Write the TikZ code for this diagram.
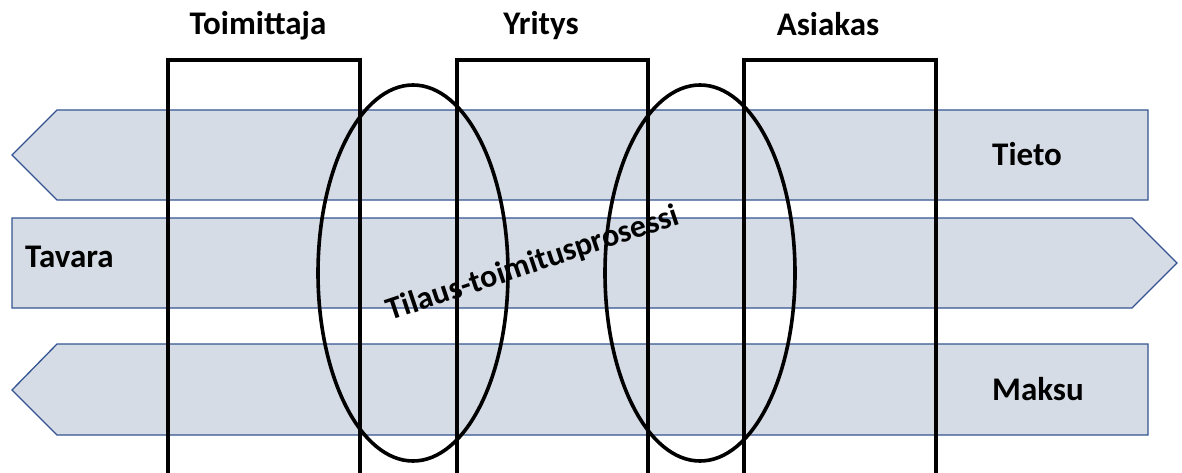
\documentclass[tikz,border=0pt]{standalone}
\usepackage{fontspec}
\setmainfont{Carlito}
\begin{document}
\begin{tikzpicture}[x=1pt,y=-1pt,
  flow/.style={fill=flowfill, draw=flowline, line width=1.3pt, line join=miter},
  party/.style={draw=black, line width=3.6pt},
  phase/.style={draw=black, line width=3.6pt},
  lbl/.style={font=\bfseries\fontsize{33}{36}\selectfont, inner sep=0pt}]
\definecolor{flowfill}{RGB}{214,220,229}
\definecolor{flowline}{RGB}{52,84,145}
\useasboundingbox (0,0) rectangle (1182,473);

% flow arrows
\draw[flow] (12,155) -- (57,110) -- (1148,110) -- (1148,200) -- (57,200) -- cycle;
\draw[flow] (12,218) -- (1132,218) -- (1177,263) -- (1132,308) -- (12,308) -- cycle;
\draw[flow] (12,390) -- (57,344) -- (1148,344) -- (1148,435) -- (57,435) -- cycle;

% process label
\node[lbl, rotate=18.5, font=\bfseries\fontsize{32}{35}\selectfont] (proc) at (533,264) {Tilaus-toimitusprosessi};

% parties
\draw[party] (168,480) -- (168,60) -- (360,60) -- (360,480);
\draw[party] (457,480) -- (457,60) -- (648,60) -- (648,480);
\draw[party] (744,480) -- (744,60) -- (936,60) -- (936,480);

% process phases
\draw[phase] (413,273) ellipse [x radius=95, y radius=188];
\draw[phase] (700,273) ellipse [x radius=95, y radius=188];

% labels
\node[lbl, anchor=base] (toim) at (258,35) {Toimittaja};
\node[lbl, anchor=base] (yri) at (541,35) {Yritys};
\node[lbl, anchor=base] (asi) at (828,36) {Asiakas};
\node[lbl, anchor=base west] (tieto) at (992,165) {Tieto};
\node[lbl, anchor=base west] (tavara) at (25,267) {Tavara};
\node[lbl, anchor=base west] (maksu) at (992,400) {Maksu};
\end{tikzpicture}
\end{document}
